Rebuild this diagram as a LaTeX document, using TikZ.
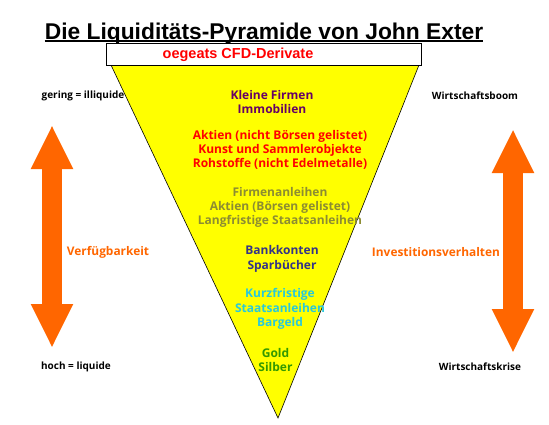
\documentclass[tikz,border=0pt]{standalone}
\usepackage{fontspec}
\setmainfont{Open Sans}
\newfontfamily\titlefont{Liberation Sans}
\usetikzlibrary{arrows.meta}
\definecolor{pyryellow}{RGB}{255,255,0}
\definecolor{darkpurple}{RGB}{102,0,102}
\definecolor{olivegray}{RGB}{140,140,50}
\definecolor{navyblue}{RGB}{51,51,136}
\definecolor{skycyan}{RGB}{40,200,220}
\definecolor{leafgreen}{RGB}{51,153,0}
\definecolor{arroworange}{RGB}{255,102,0}

\begin{document}
\begin{tikzpicture}[x=1pt, y=-1pt,
    group/.style={align=center, inner sep=0pt,
                  font=\fontsize{12}{14.3}\selectfont\bfseries},
    side/.style={inner sep=0pt, font=\fontsize{10}{12}\selectfont\bfseries},
    axis/.style={inner sep=0pt, text=arroworange,
                 font=\fontsize{11.9}{14}\selectfont\bfseries},
    bigarrow/.style={arroworange, line width=20pt,
                     {Triangle[length=44pt,width=39pt]}-{Triangle[length=44pt,width=39pt]}}
  ]
  \useasboundingbox (0,0) rectangle (549,424);

  % title
  \node[anchor=base, inner sep=0pt, font=\titlefont\fontsize{22.8}{26}\selectfont\bfseries]
    (title) at (264,39) {Die Liquiditäts-Pyramide von John Exter};
  \draw[line width=1.5pt] ([yshift=-2pt]title.base west) -- ([yshift=-2pt]title.base east);

  % pyramid
  \draw[fill=pyryellow, line width=0.6pt] (111,65) -- (419,65) -- (278,418) -- cycle;
  \node[draw, fill=white, inner sep=0pt, minimum width=315pt, minimum height=22pt]
    (derivbox) at (263.5,54) {};
  \node[text=red, inner sep=0pt, font=\titlefont\fontsize{14.5}{16}\selectfont\bfseries]
    (derivate) at (238,55) {oegeats CFD-Derivate};

  \node[group, text=darkpurple] (smallfirms) at (272,102) {Kleine Firmen\\Immobilien};
  \node[group, text=red] (unlisted) at (280,150)
    {Aktien (nicht Börsen gelistet)\\Kunst und Sammlerobjekte\\Rohstoffe (nicht Edelmetalle)};
  \node[group, text=olivegray] (bonds) at (280,207.5)
    {Firmenanleihen\\Aktien (Börsen gelistet)\\Langfristige Staatsanleihen};
  \node[group, text=navyblue] (accounts) at (282,259) {Bankkonten\\Sparbücher};
  \node[group, text=skycyan] (cash) at (280,309) {Kurzfristige\\Staatsanleihen\\Bargeld};
  \node[group, text=leafgreen] (metals) at (275.5,360) {Gold\\Silber};

  % left side
  \node[side] (illiquid) at (83,96) {gering = illiquide};
  \node[side] (liquid) at (76,367) {hoch = liquide};
  \coordinate (availtop) at (52,125);
  \coordinate (availbot) at (52,348);
  \draw[bigarrow] (availtop) -- (availbot);
  \node[axis] (avail) at (108,252) {Verfügbarkeit};

  % right side
  \node[side] (boom) at (475,96) {Wirtschaftsboom};
  \node[side] (crisis) at (480,367) {Wirtschaftskrise};
  \coordinate (investtop) at (513,129);
  \coordinate (investbot) at (513,353);
  \draw[bigarrow] (investtop) -- (investbot);
  \node[axis] (invest) at (436,252) {Investitionsverhalten};
\end{tikzpicture}
\end{document}
